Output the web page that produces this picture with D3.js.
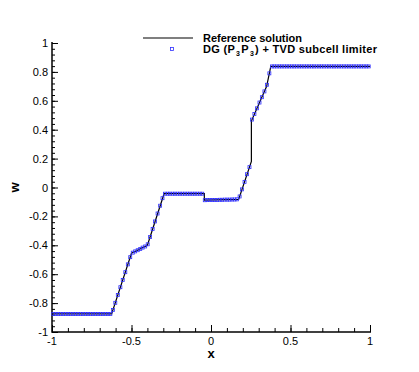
<!DOCTYPE html>
<html>
<head>
<meta charset="utf-8">
<script src="https://cdn.jsdelivr.net/npm/d3@7"></script>
<style>
  body { margin: 0; background: #fff; }
  text { font-family: "Liberation Sans", Arial, sans-serif; }
</style>
</head>
<body>
<div class="chart"></div>
<script>
// reference solution (polyline vertices)
const refX = [-1, -0.625, -0.5, -0.40, -0.295, -0.042, -0.042, 0.174, 0.254, 0.254, 0.35, 0.376, 1];
const refW = [-0.875, -0.875, -0.455, -0.40, -0.043, -0.043, -0.088, -0.082, 0.18, 0.46, 0.70, 0.838, 0.838];

// DG (P3P3) + TVD subcell limiter points
const dgX = [
  -0.992, -0.977, -0.961, -0.945, -0.930, -0.914, -0.898, -0.883, -0.867, -0.852,
  -0.836, -0.820, -0.805, -0.789, -0.773, -0.758, -0.742, -0.727, -0.711, -0.695,
  -0.680, -0.664, -0.648, -0.633, -0.617, -0.602, -0.586, -0.570, -0.555, -0.539,
  -0.523, -0.508, -0.492, -0.477, -0.461, -0.445, -0.430, -0.414, -0.398, -0.383,
  -0.367, -0.352, -0.336, -0.320, -0.305, -0.289, -0.273, -0.258, -0.242, -0.227,
  -0.211, -0.195, -0.180, -0.164, -0.148, -0.133, -0.117, -0.102, -0.086, -0.070,
  -0.055, -0.039, -0.023, -0.008, 0.008, 0.023, 0.039, 0.055, 0.070, 0.086,
  0.102, 0.117, 0.133, 0.148, 0.164, 0.180, 0.195, 0.211, 0.227, 0.242,
  0.258, 0.273, 0.289, 0.305, 0.320, 0.336, 0.352, 0.367, 0.383, 0.398,
  0.414, 0.430, 0.445, 0.461, 0.477, 0.492, 0.508, 0.523, 0.539, 0.555,
  0.570, 0.586, 0.602, 0.617, 0.633, 0.648, 0.664, 0.680, 0.695, 0.711,
  0.727, 0.742, 0.758, 0.773, 0.789, 0.805, 0.820, 0.836, 0.852, 0.867,
  0.883, 0.898, 0.914, 0.930, 0.945, 0.961, 0.977, 0.992
];
const dgW = [
  -0.875, -0.875, -0.875, -0.875, -0.875, -0.875, -0.875, -0.875, -0.875, -0.875,
  -0.875, -0.875, -0.875, -0.875, -0.875, -0.875, -0.875, -0.875, -0.875, -0.875,
  -0.875, -0.875, -0.875, -0.875, -0.848, -0.798, -0.744, -0.690, -0.640, -0.586,
  -0.532, -0.482, -0.451, -0.442, -0.434, -0.425, -0.416, -0.408, -0.393, -0.342,
  -0.287, -0.235, -0.180, -0.126, -0.074, -0.043, -0.043, -0.043, -0.043, -0.043,
  -0.043, -0.043, -0.043, -0.043, -0.043, -0.043, -0.043, -0.043, -0.043, -0.043,
  -0.043, -0.088, -0.087, -0.087, -0.086, -0.086, -0.086, -0.085, -0.085, -0.084,
  -0.084, -0.084, -0.083, -0.083, -0.082, -0.062, -0.013, 0.039, 0.092, 0.141,
  0.470, 0.508, 0.548, 0.588, 0.625, 0.665, 0.711, 0.790, 0.838, 0.838,
  0.838, 0.838, 0.838, 0.838, 0.838, 0.838, 0.838, 0.838, 0.838, 0.838,
  0.838, 0.838, 0.838, 0.838, 0.838, 0.838, 0.838, 0.838, 0.838, 0.838,
  0.838, 0.838, 0.838, 0.838, 0.838, 0.838, 0.838, 0.838, 0.838, 0.838,
  0.838, 0.838, 0.838, 0.838, 0.838, 0.838, 0.838, 0.838
];

const xTicks = [-1, -0.5, 0, 0.5, 1];
const yTicks = [-1, -0.8, -0.6, -0.4, -0.2, 0, 0.2, 0.4, 0.6, 0.8, 1];

const w = 419;
const h = 372;
const mLeft = 52, mRight = 370, mTop = 43, mBottom = 332;

const svg = d3.select('.chart')
  .append('svg')
  .attr('width', w)
  .attr('height', h);

svg.append('rect').attr('width', w).attr('height', h).attr('fill', '#fff');

const x = d3.scaleLinear().domain([-1, 1]).range([mLeft, mRight]);
const y = d3.scaleLinear().domain([-1, 1]).range([mBottom, mTop]);

// axes, ticks inward (tecplot style)
const xAxis = svg.append('g').attr('transform', `translate(0, ${mBottom})`);
xAxis.call(d3.axisTop(x).tickValues(d3.range(-1, 1.0001, 0.1)).tickSize(4).tickFormat(''))
  .call(g => g.select('.domain').remove());
xAxis.append('g')
  .call(d3.axisTop(x).tickValues(xTicks).tickSize(7).tickFormat(''))
  .call(g => g.select('.domain').remove());
xAxis.selectAll('line').attr('stroke', '#000').attr('stroke-width', 1);

svg.append('g')
  .selectAll('text')
  .data(xTicks)
  .enter()
  .append('text')
  .attr('x', d => x(d))
  .attr('y', mBottom + 13)
  .attr('text-anchor', 'middle')
  .attr('style', 'font:11px "Liberation Sans", Arial, sans-serif;')
  .text(d => d);

const yAxis = svg.append('g').attr('transform', `translate(${mLeft}, 0)`);
yAxis.call(d3.axisRight(y).tickValues(d3.range(-1, 1.0001, 0.04)).tickSize(3).tickFormat(''))
  .call(g => g.select('.domain').remove());
yAxis.append('g')
  .call(d3.axisRight(y).tickValues(yTicks).tickSize(6).tickFormat(''))
  .call(g => g.select('.domain').remove());
yAxis.selectAll('line').attr('stroke', '#000').attr('stroke-width', 1);

svg.append('g')
  .selectAll('text')
  .data(yTicks)
  .enter()
  .append('text')
  .attr('x', mLeft - 4)
  .attr('y', d => y(d) + 4)
  .attr('text-anchor', 'end')
  .attr('style', 'font:11px "Liberation Sans", Arial, sans-serif;')
  .text(d => d);

// axis lines
svg.append('line')
  .attr('x1', mLeft).attr('x2', mRight + 1)
  .attr('y1', mBottom).attr('y2', mBottom)
  .attr('stroke', '#000').attr('stroke-width', 1.5);
svg.append('line')
  .attr('x1', mLeft).attr('x2', mLeft)
  .attr('y1', mTop - 1).attr('y2', mBottom + 0.75)
  .attr('stroke', '#000').attr('stroke-width', 1.5);

// axis titles
svg.append('text')
  .attr('x', (mLeft + mRight) / 2)
  .attr('y', mBottom + 26)
  .attr('text-anchor', 'middle')
  .attr('style', 'font:bold 13px "Liberation Sans", Arial, sans-serif;')
  .text('x');
svg.append('text')
  .attr('transform', `translate(19, ${(mTop + mBottom) / 2}) rotate(-90)`)
  .attr('text-anchor', 'middle')
  .attr('style', 'font:bold 13px "Liberation Sans", Arial, sans-serif;')
  .text('w');

// reference line
const refData = refX.map((d, i) => [d, refW[i]]);
svg.append('path')
  .datum(refData)
  .attr('fill', 'none')
  .attr('stroke', '#000')
  .attr('stroke-width', 1.2)
  .attr('d', d3.line().x(d => x(d[0])).y(d => y(d[1])));

// DG markers
const dgData = dgX.map((d, i) => [d, dgW[i]]);
const ms = 3;
svg.append('g')
  .selectAll('rect')
  .data(dgData)
  .enter()
  .append('rect')
  .attr('x', d => x(d[0]) - ms / 2)
  .attr('y', d => y(d[1]) - ms / 2)
  .attr('width', ms)
  .attr('height', ms)
  .attr('fill', 'none')
  .attr('stroke', '#3030ff')
  .attr('stroke-width', 0.8);

// legend
const legend = svg.append('g');
legend.append('line')
  .attr('x1', 143).attr('x2', 193)
  .attr('y1', 38).attr('y2', 38)
  .attr('stroke', '#000').attr('stroke-width', 1.2);
legend.append('text')
  .attr('x', 203).attr('y', 42)
  .attr('style', 'font:bold 11px "Liberation Sans", Arial, sans-serif;')
  .text('Reference solution');
legend.append('rect')
  .attr('x', 172 - ms / 2).attr('y', 49 - ms / 2)
  .attr('width', ms).attr('height', ms)
  .attr('fill', 'none').attr('stroke', '#3030ff').attr('stroke-width', 0.8);
const lt = legend.append('text')
  .attr('x', 203).attr('y', 53)
  .attr('style', 'font:bold 11px "Liberation Sans", Arial, sans-serif; letter-spacing:0.3px;');
lt.append('tspan').text('DG (P');
lt.append('tspan').attr('dx', 1).attr('dy', 3).attr('font-size', 7).text('3');
lt.append('tspan').attr('dx', 1).attr('dy', -3).text('P');
lt.append('tspan').attr('dx', 1).attr('dy', 3).attr('font-size', 7).text('3');
lt.append('tspan').attr('dx', 1).attr('dy', -3).text(') + TVD subcell limiter');
</script>
</body>
</html>
